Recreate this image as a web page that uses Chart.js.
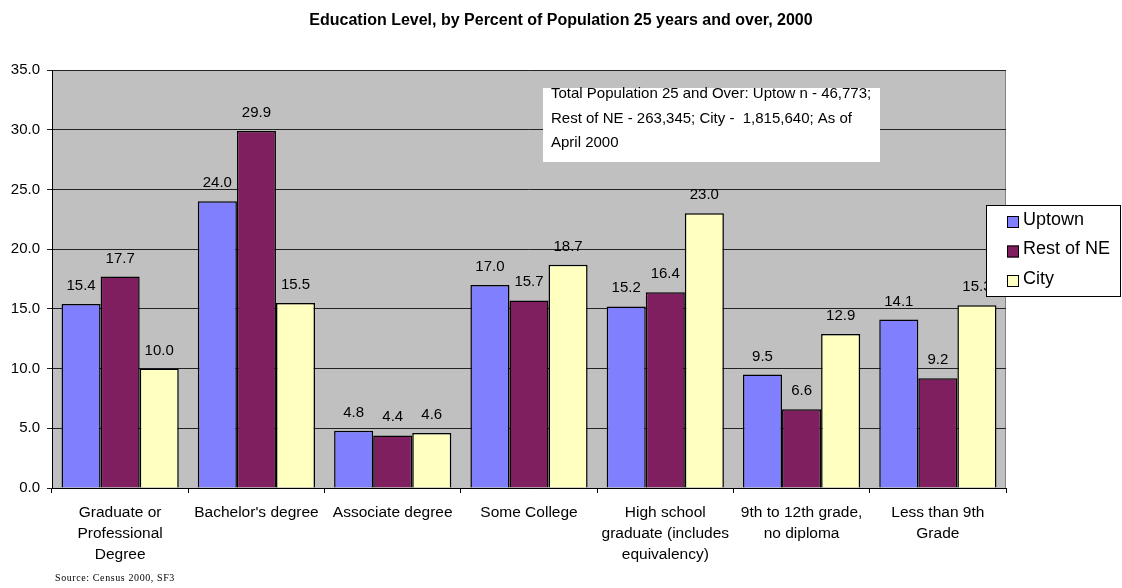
<!DOCTYPE html>
<html>
<head>
<meta charset="utf-8">
<script src="https://cdn.jsdelivr.net/npm/chart.js@4/dist/chart.umd.min.js"></script>
<style>
  html, body { margin: 0; padding: 0; background: #fff; }
  #wrap { position: relative; width: 1122px; height: 588px; }
  #source { position: absolute; left: 55px; top: 572px; font: 10px "Liberation Serif", serif; letter-spacing: 0.6px; color: #000; }
</style>
</head>
<body>
<div id="wrap">
  <canvas id="edu" width="1122" height="588"></canvas>
  <div id="source">Source: Census 2000, SF3</div>
</div>
<script>
const categories = [
  ["Graduate or", "Professional", "Degree"],
  "Bachelor's degree",
  "Associate degree",
  "Some College",
  ["High school", "graduate (includes", "equivalency)"],
  ["9th to 12th grade,", "no diploma"],
  ["Less than 9th", "Grade"]
];
const seriesNames = ["Uptown", "Rest of NE", "City"];
const uptown = [15.4, 24.0, 4.8, 17.0, 15.2, 9.5, 14.1];
const restOfNE = [17.7, 29.9, 4.4, 15.7, 16.4, 6.6, 9.2];
const city = [10.0, 15.5, 4.6, 18.7, 23.0, 12.9, 15.3];
const colors = ["#8080ff", "#801f5f", "#ffffc0"];
const chartTitle = 'Education Level, by Percent of Population 25 years and over, 2000';
const noteLines = [
  "Total Population 25 and Over: Uptow n - 46,773;",
  "Rest of NE - 263,345; City -  1,815,640; As of",
  "April 2000"
];

const FONT = '"Liberation Sans", Arial, sans-serif';

// gray plot background + frame, title centred on the page
const plotBg = {
  id: 'plotBg',
  beforeDraw(chart) {
    const {ctx, chartArea: a} = chart;
    ctx.save();
    ctx.fillStyle = '#c0c0c0';
    ctx.fillRect(a.left, a.top, a.right - a.left, a.bottom - a.top);
    ctx.strokeStyle = '#808080';
    ctx.lineWidth = 1;
    ctx.strokeRect(a.left + 0.5, a.top + 0.5, a.right - a.left - 1, a.bottom - a.top);
    ctx.fillStyle = '#000';
    ctx.font = 'bold 16px ' + FONT;
    ctx.textAlign = 'center';
    ctx.textBaseline = 'middle';
    ctx.fillText(chartTitle, chart.width / 2, 21);
    ctx.restore();
  }
};

// values over bars, note box and legend box
const extras = {
  id: 'extras',
  afterDatasetsDraw(chart) {
    const ctx = chart.ctx;
    ctx.save();
    ctx.font = '15px ' + FONT;
    ctx.fillStyle = '#000';
    ctx.textAlign = 'center';
    ctx.textBaseline = 'alphabetic';
    chart.data.datasets.forEach((ds, i) => {
      chart.getDatasetMeta(i).data.forEach((bar, j) => {
        ctx.fillText(ds.data[j].toFixed(1), bar.x, bar.y - 14);
      });
    });
    ctx.restore();
  },
  afterDraw(chart) {
    const ctx = chart.ctx;
    ctx.save();
    // note box
    ctx.fillStyle = '#fff';
    ctx.fillRect(543, 88, 337, 74);
    ctx.fillStyle = '#000';
    ctx.font = '15px ' + FONT;
    ctx.textAlign = 'left';
    ctx.textBaseline = 'middle';
    noteLines.forEach((t, i) => ctx.fillText(t, 551, 94 + i * 24.5));

    // legend box
    ctx.fillStyle = '#fff';
    ctx.fillRect(986, 205, 135, 92);
    ctx.strokeStyle = '#000';
    ctx.lineWidth = 1;
    ctx.strokeRect(986.5, 205.5, 134, 91);
    ctx.font = '18px ' + FONT;
    chart.data.datasets.forEach((ds, i) => {
      const y = 220 + i * 29.5;
      ctx.fillStyle = ds.backgroundColor;
      ctx.fillRect(1007, y - 4, 12, 12);
      ctx.strokeStyle = '#000';
      ctx.strokeRect(1007.5, y - 3.5, 11, 11);
      ctx.fillStyle = '#000';
      ctx.fillText(ds.label, 1023, y);
    });
    ctx.restore();
  }
};

const seriesValues = [uptown, restOfNE, city];

new Chart(document.getElementById('edu'), {
  type: 'bar',
  data: {
    labels: categories,
    datasets: seriesNames.map((name, i) => ({
      label: name,
      data: seriesValues[i],
      backgroundColor: colors[i],
      borderColor: '#000',
      borderWidth: 1.5,
      barPercentage: 1,
      categoryPercentage: 0.86
    }))
  },
  options: {
    responsive: false,
    animation: false,
    layout: { padding: { top: 70, right: 116, left: 0, bottom: 0 } },
    plugins: {
      legend: { display: false },
      tooltip: { enabled: false },
      title: { display: false }
    },
    scales: {
      x: {
        grid: { display: true, drawOnChartArea: false, drawTicks: true, tickLength: 5, color: '#000', offset: true },
        border: { color: '#000', width: 1 },
        ticks: {
          color: '#000',
          font: { family: FONT, size: 15.5, lineHeight: 1.37 },
          padding: 9,
          maxRotation: 0,
          autoSkip: false
        },
        afterFit(scale) { scale.height = 100; }
      },
      y: {
        min: 0,
        max: 35,
        grid: { color: '#222', lineWidth: 1, drawTicks: true, tickLength: 5 },
        border: { color: '#000', width: 1 },
        ticks: {
          stepSize: 5,
          color: '#000',
          padding: 7,
          font: { family: FONT, size: 15 },
          callback: v => v.toFixed(1)
        },
        afterFit(scale) { scale.width = 52; }
      }
    }
  },
  plugins: [plotBg, extras]
});
</script>
</body>
</html>
